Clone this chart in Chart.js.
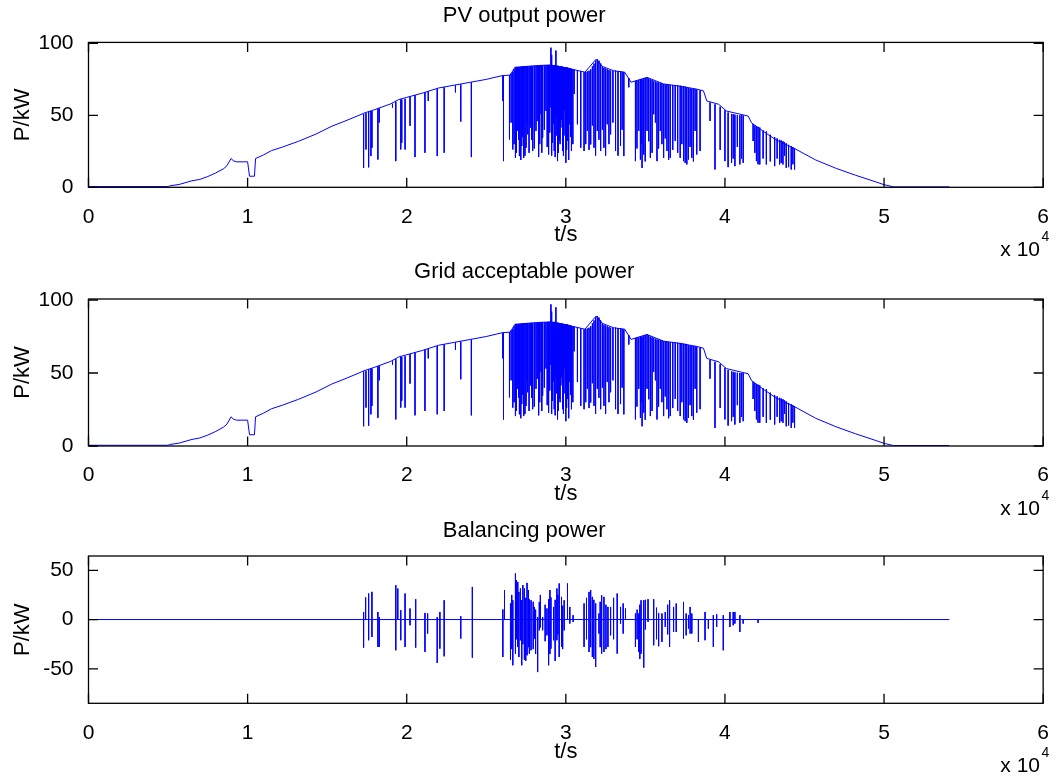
<!DOCTYPE html>
<html>
<head>
<meta charset="utf-8">
<script src="https://cdn.jsdelivr.net/npm/chart.js@4.4.1/dist/chart.umd.min.js"></script>
<style>
  html, body { margin: 0; padding: 0; background: #fff; }
  #wrap { position: relative; width: 1058px; height: 776px; }
  canvas { position: absolute; left: 0; }
</style>
</head>
<body>
<div id="wrap">
  <canvas id="pvChart" width="1058" height="260" style="top:0px"></canvas>
  <canvas id="gridChart" width="1058" height="260" style="top:260px"></canvas>
  <canvas id="balChart" width="1058" height="256" style="top:520px"></canvas>
</div>
<script>
// x axis (seconds, shown as x 10^4)
const xTickValues = [0, 10000, 20000, 30000, 40000, 50000, 60000];
const xTickLabels = ['0', '1', '2', '3', '4', '5', '6'];
const powerTicks = [0, 50, 100];
const balanceTicks = [-50, 0, 50];

// PV output power: smooth envelope (t in s, P in kW)
const pvTime = [0, 5000, 5100, 5700, 6500, 7000, 7500, 8000, 8500, 8700,
  8960, 9100, 9300, 10000, 10120, 10430, 10500, 11000, 11500, 12200,
  13200, 14300, 15300, 16000, 17000, 17300, 18000, 19000, 19500, 20000,
  21000, 22000, 23000, 24000, 25000, 26000, 26500, 26800, 27500, 28200,
  29000, 30300, 31200, 31900, 32300, 33000, 33700, 34100, 35100, 36150,
  37000, 38200, 38650, 38860, 39600, 40100, 41460, 41670, 42400, 43200,
  44400, 45700, 47000, 48200, 49500, 50000, 50600, 54100];
const pvPower = [0.5, 0.5, 1, 2, 4.5, 5.5, 7.5, 10, 13, 15,
  20, 18.5, 17.7, 17.7, 7.7, 7.7, 20, 22.5, 25.5, 28,
  32, 37, 42.5, 45.5, 50, 51.5, 54, 58, 61, 62.5,
  65.5, 69, 71, 73, 75, 77.6, 78, 83.4, 84, 84.6,
  85, 82.3, 80, 89, 84, 81, 80, 73, 76.4, 71.8,
  70.6, 68.3, 67, 60, 57.7, 53, 49.5, 44.8, 39, 33,
  26.8, 19, 13.1, 8.4, 3.7, 1.8, 0.3, 0.3];

// PV output power: cloud dips (time, level before the dip, dip bottom)
const pvSpikeTime = [17290, 17440, 17606, 17750, 17813, 18188, 18271, 19106, 19313, 19625,
  19688, 19896, 20208, 20521, 21146, 21354, 21917, 22354, 23063, 23396,
  24063, 26042, 26083, 26458, 26667, 26833, 26979, 27083, 27229, 27354,
  27500, 27604, 27771, 27917, 28125, 28292, 28438, 28542, 28750, 28917,
  29063, 29167, 29271, 29375, 29479, 29583, 29688, 29792, 29896, 30000,
  30104, 30250, 30354, 30521, 30729, 30938, 31146, 31354, 31563, 31771,
  31979, 32188, 32396, 32604, 32813, 33125, 33438, 33646, 33958, 34375,
  34583, 34688, 34792, 34896, 35104, 35313, 35521, 35729, 35938, 36146,
  36354, 36563, 36875, 37188, 37396, 37500, 37604, 37708, 37917, 38125,
  38229, 38438, 39063, 39375, 40000, 40417, 40625, 40938, 41146, 41771,
  41979, 42188, 42604, 43125, 43438, 43646, 43854, 44167, 44375,
  // denser part of the cloudy period
  26560, 26750, 26900, 27030, 27170, 27290, 27430, 27550, 27690, 27850,
  28020, 28200, 28360, 28490, 28650, 28830, 28990, 29110, 29220, 29330,
  29430, 29530, 29640, 29740, 29850, 29950, 30050, 30180, 30300, 30440,
  31250, 31460, 31670, 31870, 32080, 32300, 32500, 32710, 32960, 33280,
  33540, 34470, 34740, 34990, 35210, 35420, 35630, 35830, 36040, 36250,
  36460, 36720, 37030, 37290, 37810, 38020, 39700, 40200, 40520, 40780,
  41040, 41880, 42080, 42400, 42850, 43280, 43540, 43750, 44000, 44270];
const pvSpikeHigh = [51, 51.5, 52.5, 53, 53, 54.5, 55, 58, 59.5, 61,
  61, 61.5, 63, 64, 66, 66.5, 68.5, 69.5, 71, 71.5,
  73, 77.5, 77.5, 78, 80, 83.4, 83.5, 83.6, 83.7, 83.8,
  84, 84, 84.1, 84.2, 84.4, 84.6, 84.6, 84.7, 84.8, 85,
  97, 85, 85, 95, 84.5, 84.3, 84, 83.8, 83.6, 83.4,
  83.2, 82.6, 82.3, 81.8, 81.2, 80.6, 80, 80.5, 82, 86,
  89, 86, 83, 82, 81, 81, 80.5, 80, 76, 74,
  74.5, 75, 75, 75.5, 76.4, 75, 74, 73, 72.5, 71.8,
  71.5, 71, 70.8, 70.6, 70, 70, 69.5, 69, 68.5, 68.3,
  68, 67.5, 59, 57.7, 53.5, 51, 50.5, 50, 50, 44,
  42.5, 41.5, 38.8, 34.8, 33, 32, 30.5, 28.5, 27,
  79, 82, 83.5, 83.5, 83.7, 83.8, 83.9, 84, 84, 84.2,
  84.3, 84.5, 84.6, 84.6, 84.7, 84.9, 85, 92, 85, 85,
  84.5, 84.4, 84.1, 83.9, 83.7, 83.5, 83.3, 83, 82.5, 82,
  80.2, 81, 84, 88, 88, 84, 82.5, 81.5, 81, 80.8,
  80.2, 74.2, 75, 76, 75.7, 74.5, 73.5, 72.8, 72.2, 71.6,
  71.2, 70.9, 70.7, 70.3, 68.8, 68.4, 56, 52, 50.8, 50.2,
  50, 43, 42, 39.5, 36.5, 34, 32.5, 31.2, 29.5, 27.8];
const pvSpikeLow = [13.5, 26.3, 13.9, 21.7, 27.5, 19.3, 45, 55.5, 18.2, 26.3,
  31, 26.3, 42.7, 21, 24, 60, 21.7, 24, 66, 45.7,
  21, 60, 18.2, 33.3, 26.3, 20.5, 39.2, 21.7, 28.7, 20.5,
  27.5, 36.8, 41.5, 25.2, 39.2, 21, 50.8, 34.5, 53.1, 22.8,
  55.5, 31, 25.2, 48.5, 18.2, 32.2, 41.5, 25.2, 53.1, 17,
  32.2, 43.8, 25.2, 64.8, 43.8, 27.5, 25.2, 39.2, 29.8, 27.5,
  39.2, 25.2, 27.5, 43.8, 36.8, 25.2, 28.7, 21.7, 69.5, 18.2,
  39.2, 19.3, 13.5, 22.8, 39.2, 20.5, 50.8, 18.2, 39.2, 20.5,
  25.2, 20.5, 32.2, 20.5, 18.2, 17, 15.9, 19.3, 20.5, 39.2,
  22.8, 25.2, 46.1, 12.4, 18.2, 17, 14.7, 15.9, 17, 32.2,
  18.2, 15.9, 15.9, 14.7, 15.9, 15.9, 13.5, 12.4, 12.4,
  45, 30, 24, 33, 19, 35, 22, 45, 24, 33,
  27, 46, 30, 24, 40, 28, 38, 22, 44, 21,
  36, 24, 30, 47, 22, 36, 26, 19, 35, 30,
  30, 26, 43, 22, 33, 40, 22, 30, 45, 22,
  40, 27, 30, 18, 32, 24, 45, 27, 30, 34,
  19, 26, 24, 30, 28, 18, 26, 14, 20, 28,
  20, 24, 16, 20, 18, 20, 17, 22, 14, 16];

// Grid acceptable power reads the same as the PV curve at this scale
const gridTime = pvTime;
const gridPower = pvPower;
const gridSpikeTime = pvSpikeTime;
const gridSpikeHigh = pvSpikeHigh;
const gridSpikeLow = pvSpikeLow;

// Balancing power: zero line plus swings (time, max, min)
const balTime = [0, 54100];
const balPower = [0, 0];
const balSpikeTime = [17290, 17417, 17606, 17813, 18188, 18271, 19313, 19438, 19625, 19896,
  20208, 20563, 21146, 21313, 21917, 22083, 22354, 23396, 24125, 26042,
  26146, 26521, 26667, 26833, 26979, 27146, 27229, 27396, 27563, 27708,
  27813, 28021, 28229, 28333, 28542, 28813, 28917, 29063, 29229, 29438,
  29583, 29729, 29896, 30104, 30250, 30458, 31146, 31458, 31667, 31875,
  32083, 32250, 32396, 32646, 32813, 33229, 33438, 33604, 33750, 34375,
  34583, 34729, 34896, 35167, 35521, 35833, 36042, 36250, 36521, 36771,
  36938, 37396, 37563, 37708, 37813, 37917, 38333, 38750, 38958, 39271,
  39479, 39896, 40313, 40521, 40625, 40938, 41146, 42083,
  26600, 26900, 27050, 27300, 27480, 27650, 27950, 28100, 28400, 28700,
  29000, 29330, 29500, 29800, 31300, 31560, 31760, 32160, 32520, 33000,
  34480, 34650, 35000, 35700, 36400];
const balSpikeHigh = [7.7, 22.4, 26.4, 28.1, 7.7, 2.6, 34.9, 31.5, 9.5, 26.4,
  11.2, 20.6, 6.7, 6.1, 2.6, 7.7, 19.6, 3.4, 33.1, 10.2,
  29.8, 16.3, 19.6, 46.8, 38.2, 31.5, 19.6, 31.5, 37.2, 20.6,
  19.6, 12.8, 2.6, 17.9, 2.6, 11.2, 20.6, 22.4, 12.8, 31.5,
  36.6, 23, 19.6, 36.6, 12.8, 4.4, 16.3, 28.1, 23, 16.3,
  6.1, 24.7, 23, 12.8, 12.8, 26.4, 12.8, 16.3, 11.2, 6.1,
  6.1, 19.6, 19.6, 20.6, 20.6, 6.7, 6.1, 7.7, 19.6, 12.8,
  16.3, 17.9, 6.1, 4.4, 12.8, 6.1, 0, 7.7, 0, 4.4,
  5.3, 4.4, 7.7, 7.7, 7.7, 4.4, 0, 0,
  25, 40, 28, 35, 22, 30, 18, 10, 25, 15,
  30, 20, 25, 14, 22, 30, 20, 18, 15, 22,
  10, 15, 20, 12, 15];
const balSpikeLow = [-28.5, 0, -21, -17.7, -27.8, -27.8, -31.2, 0, -21, -27.8,
  -5.8, -28.5, -32.9, -14.2, -44.1, -29.5, -37.3, -19.3, -38.6, -38,
  0, -40.7, -46.4, -34.6, -27.8, -21, -46.4, -40.7, -36.3, -34.6,
  -31.2, -19.3, -53.3, -10.9, -10.9, -16, -46.4, -29.5, -21, -21,
  -38, -27.8, -10.9, 0, -4.1, -2.4, -27.8, -32.9, -38, -48.2,
  -14.2, -34.6, -32.9, -27.8, -16, -34.6, -4.1, -14.2, 0, -27.8,
  -32.9, -34.6, -48.8, -2.4, -26.1, -27.1, -22.8, -7.5, -27.8, -12.6,
  -12.6, -19.3, -16, -9.2, -14.2, -14.2, -22.8, -21, -9.2, -27.8,
  -7.5, -31.2, -7.5, -5.8, -4.1, -12.6, -4.1, -3.4,
  -30, -20, -38, -25, -42, -28, -30, -35, -8, -22,
  -35, -42, -15, -30, -20, -28, -40, -28, -30, -20,
  -20, -40, -10, -20, -15];

const FONT = "Arial, 'Liberation Sans', Helvetica, sans-serif";
const LINE_BLUE = '#0000ff';
Chart.defaults.font.family = FONT;
Chart.defaults.color = '#000';

function toPoints(times, values) {
    return times.map((t, i) => ({ x: t, y: values[i] }));
}

// each spike becomes a vertical segment, broken from the next by a null
function toSpikes(times, highs, lows) {
    const pts = [];
    times.forEach((t, i) => {
        pts.push({ x: t, y: highs[i] });
        pts.push({ x: t, y: lows[i] });
        pts.push({ x: t, y: null });
    });
    return pts;
}

// MATLAB-like box with inward ticks and the x 10^4 exponent
const matlabFrame = {
    id: 'matlabFrame',
    afterDraw(chart) {
        const { ctx, chartArea, scales } = chart;
        const { left, right, top, bottom } = chartArea;
        const tick = 9.5;
        ctx.save();
        ctx.strokeStyle = '#000';
        ctx.lineWidth = 1.3;
        ctx.strokeRect(left, top, right - left, bottom - top);
        ctx.beginPath();
        scales.x.ticks.forEach(t => {
            const px = scales.x.getPixelForValue(t.value);
            ctx.moveTo(px, bottom); ctx.lineTo(px, bottom - tick);
            ctx.moveTo(px, top); ctx.lineTo(px, top + tick);
        });
        scales.y.ticks.forEach(t => {
            const py = scales.y.getPixelForValue(t.value);
            ctx.moveTo(left, py); ctx.lineTo(left + tick, py);
            ctx.moveTo(right, py); ctx.lineTo(right - tick, py);
        });
        ctx.stroke();
        ctx.fillStyle = '#000';
        ctx.textBaseline = 'alphabetic';
        ctx.font = '21px ' + FONT;
        ctx.textAlign = 'right';
        ctx.fillText('x 10', 1040, bottom + 69);
        ctx.font = '14px ' + FONT;
        ctx.textAlign = 'left';
        ctx.fillText('4', 1041.5, bottom + 54);
        ctx.restore();
    }
};

function makeSubplot(canvasId, cfg) {
    const canvas = document.getElementById(canvasId);
    const datasets = [
        {
            data: toPoints(cfg.time, cfg.values),
            borderColor: LINE_BLUE,
            borderWidth: 1,
            pointRadius: 0,
            tension: 0,
            fill: false
        },
        {
            data: toSpikes(cfg.spikeTime, cfg.spikeHigh, cfg.spikeLow),
            borderColor: LINE_BLUE,
            borderWidth: 1,
            pointRadius: 0,
            tension: 0,
            fill: false,
            spanGaps: false
        }
    ];

    return new Chart(canvas, {
        type: 'line',
        data: { datasets: datasets },
        plugins: [matlabFrame],
        options: {
            responsive: false,
            animation: false,
            devicePixelRatio: 1,
            events: [],
            layout: { padding: { top: 0, right: 9.7, bottom: 0, left: 0 } },
            plugins: {
                legend: { display: false },
                tooltip: { enabled: false },
                title: {
                    display: true,
                    text: cfg.title,
                    color: '#000',
                    font: { size: 22, weight: 'normal', lineHeight: 1 },
                    padding: { top: cfg.titleTop, bottom: cfg.titleBottom }
                }
            },
            scales: {
                x: {
                    type: 'linear',
                    min: 0,
                    max: 60000,
                    afterBuildTicks: s => { s.ticks = xTickValues.map(v => ({ value: v })); },
                    afterFit: s => { s.height = cfg.xAxisHeight; },
                    ticks: {
                        callback: (v, i) => xTickLabels[i],
                        maxRotation: 0,
                        autoSkip: false,
                        padding: 9,
                        font: { size: 21 }
                    },
                    grid: { display: false },
                    border: { display: false },
                    title: {
                        display: true,
                        text: 't/s',
                        font: { size: 22 },
                        padding: { top: 0, bottom: cfg.xTitleBottom }
                    }
                },
                y: {
                    min: cfg.yMin,
                    max: cfg.yMax,
                    afterBuildTicks: s => { s.ticks = cfg.yTicks.map(v => ({ value: v })); },
                    afterFit: s => { s.width = 88.5; },
                    ticks: {
                        padding: 7,
                        font: { size: 21 },
                        callback: v => String(v)
                    },
                    grid: { display: false },
                    border: { display: false },
                    title: {
                        display: true,
                        text: 'P/kW',
                        font: { size: 22 },
                        padding: { top: 9.3, bottom: 0 }
                    }
                }
            }
        }
    });
}

makeSubplot('pvChart', {
    title: 'PV output power',
    time: pvTime, values: pvPower,
    spikeTime: pvSpikeTime, spikeHigh: pvSpikeHigh, spikeLow: pvSpikeLow,
    yMin: 0, yMax: 100.7, yTicks: powerTicks,
    titleTop: 4.9, titleBottom: 15.5, xAxisHeight: 72.7, xTitleBottom: 12
});

makeSubplot('gridChart', {
    title: 'Grid acceptable power',
    time: gridTime, values: gridPower,
    spikeTime: gridSpikeTime, spikeHigh: gridSpikeHigh, spikeLow: gridSpikeLow,
    yMin: 0, yMax: 100.7, yTicks: powerTicks,
    titleTop: 0.7, titleBottom: 16.3, xAxisHeight: 74, xTitleBottom: 12.5
});

makeSubplot('balChart', {
    title: 'Balancing power',
    time: balTime, values: balPower,
    spikeTime: balSpikeTime, spikeHigh: balSpikeHigh, spikeLow: balSpikeLow,
    yMin: -85, yMax: 64.5, yTicks: balanceTicks,
    titleTop: 0, titleBottom: 14, xAxisHeight: 72.7, xTitleBottom: 10.5
});
</script>
</body>
</html>
